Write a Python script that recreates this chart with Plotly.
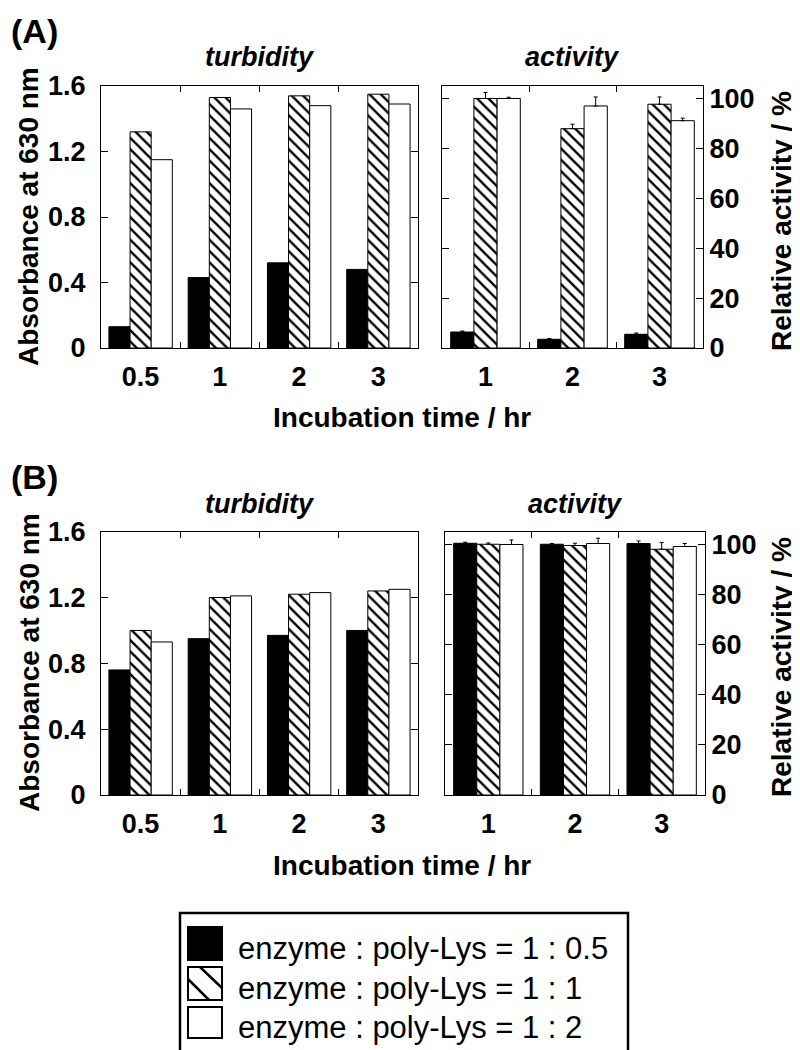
import plotly.graph_objects as go

# ---------------- data ----------------
cats_turb = ["0.5", "1", "2", "3"]
cats_act = ["1", "2", "3"]

series_names = ["enzyme : poly-Lys = 1 : 0.5",
                "enzyme : poly-Lys = 1 : 1",
                "enzyme : poly-Lys = 1 : 2"]

A_turb_r05 = [0.13, 0.43, 0.52, 0.48]
A_turb_r1 = [1.32, 1.53, 1.54, 1.55]
A_turb_r2 = [1.15, 1.46, 1.48, 1.49]

A_act_r05 = [6.4, 3.5, 5.5]
A_act_r05_err = [0.4, 0.3, 0.5]
A_act_r1 = [100.0, 87.9, 97.7]
A_act_r1_err = [2.4, 1.8, 2.9]
A_act_r2 = [100.0, 97.0, 91.1]
A_act_r2_err = [0.5, 3.6, 1.0]

B_turb_r05 = [0.76, 0.95, 0.97, 1.00]
B_turb_r1 = [1.00, 1.20, 1.22, 1.24]
B_turb_r2 = [0.93, 1.21, 1.23, 1.25]

B_act_r05 = [100.4, 100.0, 100.3]
B_act_r05_err = [0.4, 0.3, 1.0]
B_act_r1 = [100.0, 99.5, 98.0]
B_act_r1_err = [0.5, 0.9, 2.7]
B_act_r2 = [99.9, 100.3, 99.1]
B_act_r2_err = [1.8, 2.1, 1.2]

turb_ticks = [0, 0.4, 0.8, 1.2, 1.6]
turb_ticktext = ["0", "0.4", "0.8", "1.2", "1.6"]
act_ticks = [0, 20, 40, 60, 80, 100]

# ---------------- styles ----------------
W, H = 800, 1050
OFF = 8  # page body margin offset
FONT = "Liberation Sans, Arial, sans-serif"


def px(x):
    return (x - OFF) / W


def py(y):
    return 1 - (y - OFF) / H


styles = [
    dict(color="black", line=dict(color="black", width=1)),
    dict(color="white", line=dict(color="black", width=1),
         pattern=dict(shape="\\", size=8, solidity=0.3,
                      fgcolor="black", bgcolor="white", fillmode="replace")),
    dict(color="white", line=dict(color="black", width=1)),
]

fig = go.Figure()


def add_group(cats, values, errs, xa, ya):
    for i, v in enumerate(values):
        kw = {}
        if errs is not None:
            kw["error_y"] = dict(type="data", array=errs[i],
                                 arrayminus=[0] * len(errs[i]),
                                 symmetric=False, color="black",
                                 thickness=1, width=2)
        fig.add_trace(go.Bar(x=cats, y=v, marker=styles[i], name=series_names[i],
                             xaxis=xa, yaxis=ya, showlegend=False, **kw))


add_group(cats_turb, [A_turb_r05, A_turb_r1, A_turb_r2], None, "x", "y")
add_group(cats_act, [A_act_r05, A_act_r1, A_act_r2],
          [A_act_r05_err, A_act_r1_err, A_act_r2_err], "x2", "y2")
add_group(cats_turb, [B_turb_r05, B_turb_r1, B_turb_r2], None, "x3", "y3")
add_group(cats_act, [B_act_r05, B_act_r1, B_act_r2],
          [B_act_r05_err, B_act_r1_err, B_act_r2_err], "x4", "y4")

tickfont = dict(family=FONT, size=27, color="black", weight="bold")

common_x = dict(type="category", showline=True, linecolor="black", linewidth=1,
                mirror="ticks", ticks="inside", ticklen=6, tickcolor="black",
                tickson="boundaries", showgrid=False, zeroline=False,
                tickfont=tickfont, ticklabelstandoff=5, fixedrange=True,
                automargin=False)
common_y = dict(showline=True, linecolor="black", linewidth=1, mirror="ticks",
                ticks="inside", ticklen=7, tickcolor="black", showgrid=False,
                zeroline=False, tickfont=tickfont, fixedrange=True,
                automargin=False)

dom_A_y = [py(348), py(86)]
dom_B_y = [py(795), py(531.7)]
dom_L_x = [px(101), px(418)]
dom_AR_x = [px(442), px(703)]
dom_BR_x = [px(445), px(705)]

fig.update_layout(
    template="none",
    width=W, height=H, autosize=False,
    margin=dict(l=0, r=0, t=0, b=0, pad=0),
    paper_bgcolor="white", plot_bgcolor="white",
    barmode="group", bargap=0.2, bargroupgap=0,
    showlegend=False,
    xaxis=dict(common_x, domain=dom_L_x, anchor="y", range=[-0.5, 3.5]),
    yaxis=dict(common_y, domain=dom_A_y, anchor="x", range=[0, 1.6],
               tickvals=turb_ticks, ticktext=turb_ticktext, ticklabelstandoff=9),
    xaxis2=dict(common_x, domain=dom_AR_x, anchor="y2", range=[-0.5, 2.5]),
    yaxis2=dict(common_y, domain=dom_A_y, anchor="x2", side="right",
                range=[0, 105], tickvals=act_ticks, ticklabelstandoff=0),
    xaxis3=dict(common_x, domain=dom_L_x, anchor="y3", range=[-0.5, 3.5]),
    yaxis3=dict(common_y, domain=dom_B_y, anchor="x3", range=[0, 1.6],
                tickvals=turb_ticks, ticktext=turb_ticktext, ticklabelstandoff=9),
    xaxis4=dict(common_x, domain=dom_BR_x, anchor="y4", range=[-0.5, 2.5]),
    yaxis4=dict(common_y, domain=dom_B_y, anchor="x4", side="right",
                range=[0, 105], tickvals=act_ticks, ticklabelstandoff=0),
)

ann = []


def text(x, y, s, size=28, angle=0, xanchor="center", weight="bold", italic=False):
    ann.append(dict(x=px(x), y=py(y), xref="paper", yref="paper", text=s,
                    showarrow=False, textangle=angle, xanchor=xanchor,
                    yanchor="middle",
                    font=dict(family=FONT, size=size, color="black", weight=weight,
                              style="italic" if italic else "normal")))


# panel A
text(9, 31, "(A)", size=34, xanchor="left")
text(260, 57, "turbidity", size=27, italic=True)
text(572, 57, "activity", size=27, italic=True)
text(29, 217, "Absorbance at 630 nm", angle=-90)
text(781, 221, "Relative activity / %", angle=-90)
text(402, 418, "Incubation time / hr")
# panel B
text(9, 477, "(B)", size=34, xanchor="left")
text(260, 504, "turbidity", size=27, italic=True)
text(575, 504, "activity", size=27, italic=True)
text(29, 663, "Absorbance at 630 nm", angle=-90)
text(781, 667, "Relative activity / %", angle=-90)
text(402, 865, "Incubation time / hr")

# manual legend
shapes = []
shapes.append(dict(type="rect", xref="paper", yref="paper",
                   x0=px(180), x1=px(628), y0=py(1075), y1=py(913),
                   line=dict(color="black", width=2.5), fillcolor="rgba(0,0,0,0)"))
sq_x0, sq_x1 = 188, 222
rows = [(927, 960), (967, 1000), (1007, 1038)]
shapes.append(dict(type="rect", xref="paper", yref="paper",
                   x0=px(sq_x0), x1=px(sq_x1), y0=py(rows[0][1]), y1=py(rows[0][0]),
                   line=dict(color="black", width=2), fillcolor="black"))
shapes.append(dict(type="rect", xref="paper", yref="paper",
                   x0=px(sq_x0), x1=px(sq_x1), y0=py(rows[1][1]), y1=py(rows[1][0]),
                   line=dict(color="black", width=2), fillcolor="white"))
# hatch strokes inside the second legend square
t0, t1 = rows[1]
shapes.append(dict(type="line", xref="paper", yref="paper",
                   x0=px(sq_x0), y0=py(t0 + 12), x1=px(sq_x0 + 21), y1=py(t1),
                   line=dict(color="black", width=2.5)))
shapes.append(dict(type="line", xref="paper", yref="paper",
                   x0=px(sq_x0 + 12), y0=py(t0), x1=px(sq_x1), y1=py(t0 + 21),
                   line=dict(color="black", width=2.5)))
shapes.append(dict(type="rect", xref="paper", yref="paper",
                   x0=px(sq_x0), x1=px(sq_x1), y0=py(rows[2][1]), y1=py(rows[2][0]),
                   line=dict(color="black", width=2), fillcolor="white"))

for name, (r0, r1) in zip(series_names, rows):
    text(236, (r0 + r1) / 2 + 5, name, size=31, xanchor="left", weight="normal")

fig.update_layout(annotations=ann, shapes=shapes)

fig.write_html("out.html")
